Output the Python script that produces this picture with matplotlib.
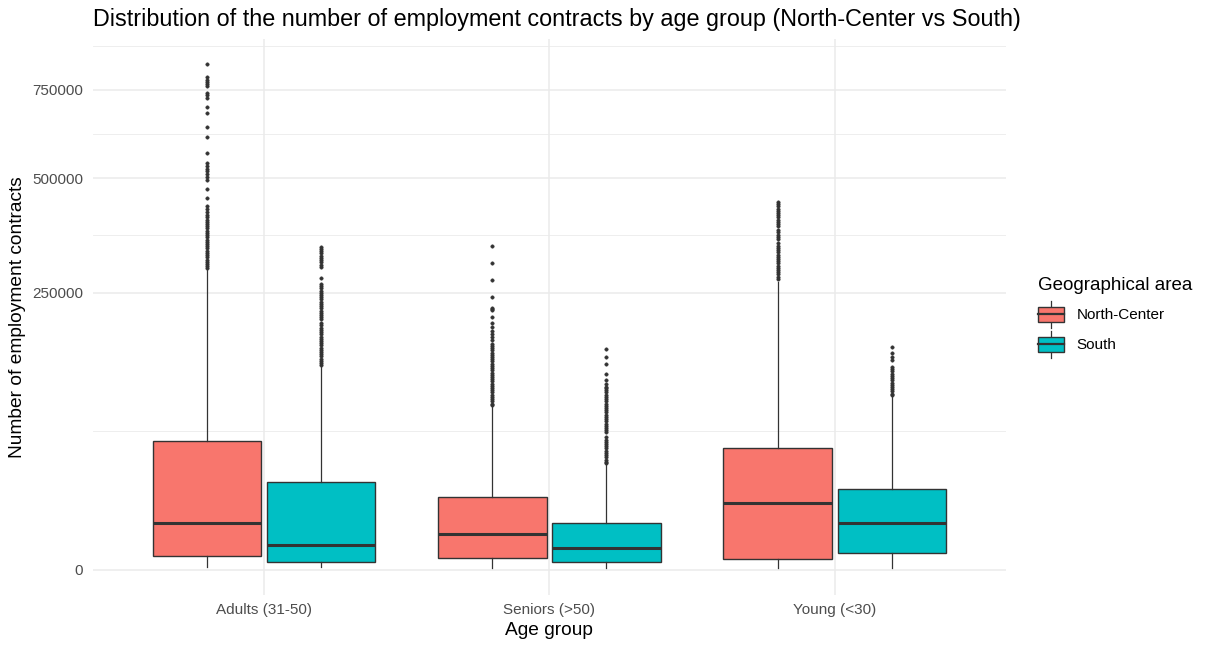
import matplotlib
matplotlib.use("Agg")
import matplotlib.pyplot as plt
import numpy as np
from matplotlib.legend_handler import HandlerBase
from matplotlib.patches import Rectangle, Patch
from matplotlib.lines import Line2D

plt.rcParams['font.family'] = ['Liberation Sans', 'DejaVu Sans']

age_groups = ["Adults (31-50)", "Seniors (>50)", "Young (<30)"]
areas = ["North-Center", "South"]
area_colors = ["#F8766D", "#00BFC4"]

# box statistics per area, one value per age group
nc_whislo = [19, 13, 13]
nc_q1 = [616, 444, 349]
nc_med = [7230, 4145, 14660]
nc_q3 = [53900, 17200, 48600]
nc_whishi = [296400, 86900, 270300]

south_whislo = [19, 13, 13]
south_q1 = [187, 191, 944]
south_med = [2000, 1530, 7210]
south_q3 = [24860, 7100, 21080]
south_whishi = [135000, 36600, 99300]

# outliers
nc_out_adults = [832700, 790000, 783000, 776000, 769000, 763000, 741000, 733000, 725000,
                 699000, 678500, 638000, 611000, 565000, 538000, 531000, 524000, 517000,
                 510000, 503000, 494000, 472000, 451000, 432000, 425000, 418000, 411000,
                 404500, 399400, 394400, 389400, 384400, 379500, 374500, 369700, 364800,
                 360000, 355200, 350500, 345700, 341100, 336400, 331800, 327200, 322600,
                 318100, 313600, 309100, 304700, 300300, 297000]
nc_out_seniors = [340600, 307100, 274000, 242200, 223700, 221000, 219100, 208000, 198200,
                  191900, 186000, 181500, 176000, 171400, 166400, 163200, 160000, 156800,
                  153700, 150500, 147500, 144400, 141400, 138400, 135400, 132500, 129600,
                  126700, 123900, 121100, 118300, 115600, 112900, 110200, 107600, 105000,
                  102400, 99900, 97300, 94900, 92400, 90000, 88200]
nc_out_young = [440900, 435600, 430300, 425100, 419900, 414700, 409600, 404500, 399400,
                394400, 389400, 384400, 375800, 370900, 366000, 361200, 356400, 346900,
                342200, 337600, 332900, 328300, 323800, 319200, 314700, 310200, 305800,
                301400, 297000, 292700, 288400, 284100, 279800, 275600]

south_out_adults = [339900, 335200, 330600, 326000, 321500, 317000, 312500, 308000, 303600,
                    299200, 276400, 266300, 262100, 258100, 254000, 250000, 246000, 242100,
                    238100, 234300, 230400, 226600, 222800, 219000, 215300, 211600, 207900,
                    204300, 198000, 194500, 191000, 187500, 184000, 180600, 177200, 173900,
                    170600, 167300, 164000, 160800, 157600, 154400, 151300, 148200, 145200,
                    142100, 139100, 136200]
south_out_seniors = [158200, 147400, 138300, 124300, 116800, 113000, 108700, 107600, 105000,
                     102400, 99900, 97300, 94900, 92400, 90000, 87600, 85300, 82900, 80700,
                     78400, 76200, 74000, 71800, 69700, 67600, 65500, 63500, 61750, 57100,
                     55200, 53400, 51500, 49700, 48000, 46200, 44500, 42800, 41200, 39600,
                     38000, 36900]
south_out_young = [161900, 152400, 147700, 143100, 134000, 131000, 128200, 125300, 122500,
                   119700, 117000, 114200, 111600, 108900, 106300, 103700, 101100, 99900]

y_ticks = [0, 250000, 500000, 750000]


def ssqrt(v):
    v = np.asarray(v, dtype=float)
    return np.sign(v) * np.sqrt(np.abs(v))


def ssq(v):
    v = np.asarray(v, dtype=float)
    return np.sign(v) * v ** 2


fig = plt.figure(figsize=(12.05, 6.46), dpi=100)
ax = fig.add_axes([0.0769, 0.0789, 0.7580, 0.8607])
ax.set_yscale('function', functions=(ssqrt, ssq))

groups = [
    (nc_whislo, nc_q1, nc_med, nc_q3, nc_whishi, [nc_out_adults, nc_out_seniors, nc_out_young]),
    (south_whislo, south_q1, south_med, south_q3, south_whishi,
     [south_out_adults, south_out_seniors, south_out_young]),
]
offsets = [-0.2, 0.2]
dark = "#333333"

for k, (wl, q1, med, q3, wh, outs) in enumerate(groups):
    stats = []
    for i in range(len(age_groups)):
        stats.append(dict(whislo=wl[i], q1=q1[i], med=med[i], q3=q3[i], whishi=wh[i],
                          fliers=outs[i]))
    pos = np.arange(len(age_groups)) + offsets[k]
    ax.bxp(stats, positions=pos, widths=0.38, patch_artist=True, showcaps=False,
           boxprops=dict(facecolor=area_colors[k], edgecolor=dark, linewidth=1.0),
           medianprops=dict(color=dark, linewidth=2.2),
           whiskerprops=dict(color=dark, linewidth=0.9),
           flierprops=dict(marker='o', markersize=2.5, markerfacecolor=dark,
                           markeredgecolor=dark, markeredgewidth=0.3),
           zorder=3)

ax.set_xlim(-0.6, len(age_groups) - 0.4)
ax.set_ylim(-ssq(45.6), ssq(958))

ax.set_xticks(np.arange(len(age_groups)))
ax.set_xticklabels(age_groups)
ax.set_yticks(y_ticks)
ax.set_yticklabels([str(t) for t in y_ticks])
# minor breaks halfway between majors on the sqrt scale
mt = ssqrt(y_ticks)
mids = list((mt[:-1] + mt[1:]) / 2) + [mt[-1] + (mt[-1] - mt[-2]) / 2]
ax.set_yticks(ssq(mids), minor=True)

ax.tick_params(axis='both', which='both', length=0, labelsize=11, labelcolor='#4D4D4D')
ax.tick_params(axis='y', pad=7)
ax.tick_params(axis='x', pad=6)
ax.grid(True, which='major', color='#EBEBEB', linewidth=1.1, zorder=0)
ax.grid(True, which='minor', axis='y', color='#EBEBEB', linewidth=0.6, zorder=0)
ax.set_axisbelow(True)
for s in ax.spines.values():
    s.set_visible(False)

ax.set_xlabel("Age group", fontsize=13.8, labelpad=3)
ax.set_ylabel("Number of employment contracts", fontsize=13.8, labelpad=4)
fig.text(0.0769, 1 - 25.7 / 646,
         "Distribution of the number of employment contracts by age group (North-Center vs South)",
         fontsize=16.8, ha='left', va='baseline')


class BoxKey(HandlerBase):
    def create_artists(self, legend, orig_handle, xdescent, ydescent, width, height, fontsize, trans):
        x0 = -xdescent
        cy = -ydescent + height / 2
        fc = orig_handle.get_facecolor()
        whisk = Line2D([x0 + width / 2] * 2, [cy - 9.4, cy + 9.4], color=dark, lw=0.9,
                       transform=trans)
        box = Rectangle((x0, cy - 5.4), width, 10.8,
                        facecolor=fc, edgecolor=dark, lw=1.0, transform=trans)
        med = Line2D([x0, x0 + width], [cy, cy], color=dark, lw=1.6, transform=trans)
        return [whisk, box, med]


handles = [Patch(facecolor=c) for c in area_colors]
leg = fig.legend(handles, areas, loc='upper left', bbox_to_anchor=(0.8614, 0.571),
                 frameon=False, fontsize=11, title="Geographical area", title_fontsize=13.5,
                 handler_map={Patch: BoxKey()}, handlelength=1.7, handleheight=1.567,
                 labelspacing=0.7, handletextpad=0.83, alignment='left', borderaxespad=0,
                 borderpad=0)

fig.savefig("out.png", dpi=100)
